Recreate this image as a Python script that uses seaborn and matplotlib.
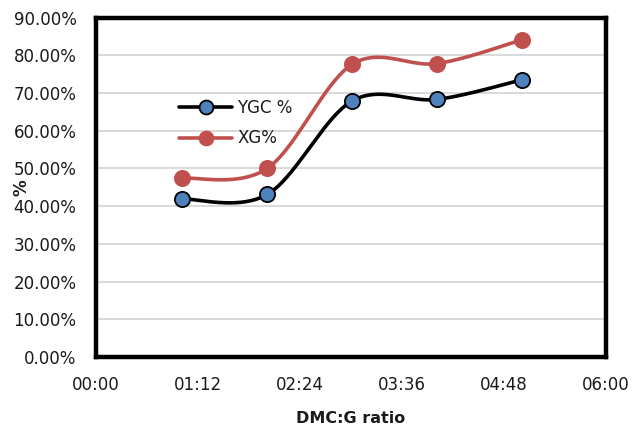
import numpy as np
import pandas as pd
import matplotlib
matplotlib.use("Agg")
import matplotlib.pyplot as plt
from matplotlib.lines import Line2D
from matplotlib.ticker import FuncFormatter
import seaborn as sns

# DMC:G ratios, stored by the spreadsheet as hh:mm times (1:1 -> 01:01 ...)
ratios = ["1:1", "2:1", "3:1", "4:1", "5:1"]
ratio_hours = [1 + 1 / 60, 2 + 1 / 60, 3 + 1 / 60, 4 + 1 / 60, 5 + 1 / 60]
ygc = [41.9, 43.1, 67.9, 68.3, 73.5]
xg = [47.4, 50.0, 77.6, 77.8, 84.1]
series_names = ["YGC %", "XG%"]

x_ticks_hours = [0, 1.2, 2.4, 3.6, 4.8, 6.0]
y_ticks = [0, 10, 20, 30, 40, 50, 60, 70, 80, 90]

BLACK = "#000000"
BLUE = "#4F81BD"
RED = "#C0504D"
GRID = "#D9D9D9"
TEXT = "#1a1a1a"


def smooth_curve(x, y, steps=40):
    """Spreadsheet-style smoothed line: cubic Bezier segments with 1/6 tangents."""
    x = np.asarray(x, float)
    y = np.asarray(y, float)
    n = len(x)
    xs, ys = [], []
    t = np.linspace(0, 1, steps)
    for i in range(n - 1):
        p0 = np.array([x[max(i - 1, 0)], y[max(i - 1, 0)]])
        p1 = np.array([x[i], y[i]])
        p2 = np.array([x[i + 1], y[i + 1]])
        p3 = np.array([x[min(i + 2, n - 1)], y[min(i + 2, n - 1)]])
        c1 = p1 + (p2 - p0) / 6
        c2 = p2 - (p3 - p1) / 6
        b = ((1 - t) ** 3)[:, None] * p1 + (3 * (1 - t) ** 2 * t)[:, None] * c1 \
            + (3 * (1 - t) * t ** 2)[:, None] * c2 + (t ** 3)[:, None] * p2
        xs.extend(b[:, 0])
        ys.extend(b[:, 1])
    return np.array(xs), np.array(ys)


df = pd.DataFrame({"ratio": ratios, "hours": ratio_hours, "YGC %": ygc, "XG%": xg})
long = df.melt(id_vars=["ratio", "hours"], value_vars=series_names,
               var_name="series", value_name="pct")

sns.set_theme(style="white")
plt.rcParams["font.family"] = ["DejaVu Sans"]

fig = plt.figure(figsize=(6.33, 4.28), dpi=100)
ax = fig.add_axes([0.1517, 0.166, 0.805, 0.793])

line_colors = {"YGC %": BLACK, "XG%": RED}
marker_faces = {"YGC %": BLUE, "XG%": RED}
marker_edges = {"YGC %": BLACK, "XG%": RED}

for name in series_names:
    sx, sy = smooth_curve(df["hours"], df[name])
    ax.plot(sx, sy, color=line_colors[name], lw=2.6, zorder=3,
            solid_capstyle="round")

for name in series_names:
    sub = long[long["series"] == name]
    sns.scatterplot(data=sub, x="hours", y="pct", ax=ax, s=120,
                    color=marker_faces[name], edgecolor=marker_edges[name],
                    linewidth=1.3, zorder=4, legend=False)

ax.set_xlim(0, 6)
ax.set_ylim(0, 90)
ax.set_xticks(x_ticks_hours)
ax.xaxis.set_major_formatter(FuncFormatter(
    lambda v, p: f"{int(round(v * 60)) // 60:02d}:{int(round(v * 60)) % 60:02d}"))
ax.set_yticks(y_ticks)
ax.yaxis.set_major_formatter(FuncFormatter(lambda v, p: f"{v:.2f}%"))
ax.tick_params(axis="both", length=0, labelsize=12, colors=TEXT)
ax.tick_params(axis="x", pad=14)
ax.tick_params(axis="y", pad=14)

ax.grid(axis="y", color=GRID, lw=1.4)
ax.set_axisbelow(True)
for side in ["left", "right", "top", "bottom"]:
    ax.spines[side].set_visible(True)
    ax.spines[side].set_color(BLACK)
    ax.spines[side].set_linewidth(3.2)

ax.set_xlabel("DMC:G ratio", fontsize=11.5, fontweight="bold", labelpad=12,
              color=TEXT)
ax.set_ylabel("%", fontsize=12, fontweight="bold", color=TEXT)
ax.yaxis.set_label_coords(-0.128, 0.5)

handles = [
    Line2D([0], [0], color=line_colors[n], lw=2.6, marker="o", markersize=10,
           markerfacecolor=marker_faces[n], markeredgecolor=marker_edges[n],
           markeredgewidth=1.3)
    for n in series_names
]
leg = ax.legend(handles, series_names, loc="upper left",
                bbox_to_anchor=(0.15, 0.78), frameon=False, fontsize=12,
                handlelength=3.2, handletextpad=0.3, labelspacing=0.75,
                borderaxespad=0)
for txt in leg.get_texts():
    txt.set_color(TEXT)

fig.savefig("out.png", dpi=100, facecolor="white")
